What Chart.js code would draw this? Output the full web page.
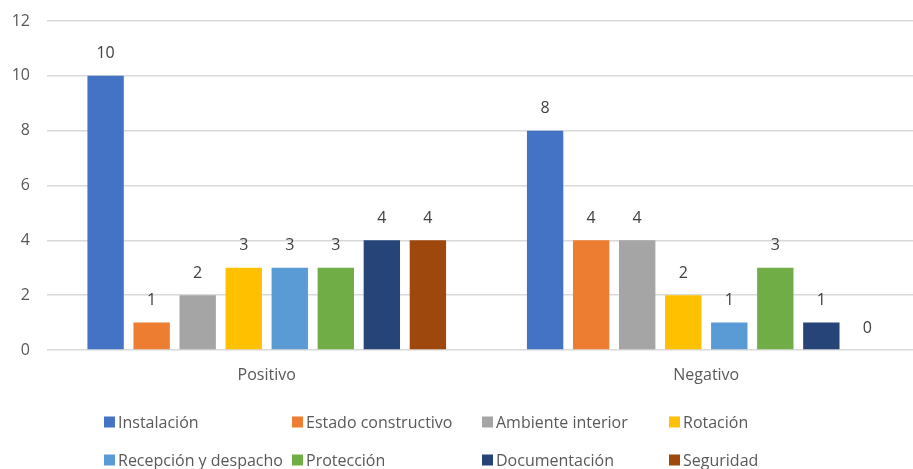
<!DOCTYPE html>
<html>
<head>
<meta charset="utf-8">
<script src="https://cdn.jsdelivr.net/npm/chart.js@4/dist/chart.umd.min.js"></script>
<style>
  html, body { margin: 0; padding: 0; background: #fff; }
  #wrap { width: 913px; height: 469px; position: relative; }
</style>
</head>
<body>
<div id="wrap"><canvas id="c" width="913" height="469"></canvas></div>
<script>
const categories = ["Positivo", "Negativo"];
const seriesNames = ["Instalación", "Estado constructivo", "Ambiente interior", "Rotación",
                     "Recepción y despacho", "Protección", "Documentación", "Seguridad"];
const instalacion = [10, 8];
const estadoConstructivo = [1, 4];
const ambienteInterior = [2, 4];
const rotacion = [3, 2];
const recepcionDespacho = [3, 1];
const proteccion = [3, 3];
const documentacion = [4, 1];
const seguridad = [4, 0];
const yTicks = [0, 2, 4, 6, 8, 10, 12];

const seriesValues = [instalacion, estadoConstructivo, ambienteInterior, rotacion,
                      recepcionDespacho, proteccion, documentacion, seguridad];
const colors = ["#4472C4", "#ED7D31", "#A5A5A5", "#FFC000", "#5B9BD5", "#70AD47", "#264478", "#9E480E"];

const FONT = "'Open Sans', Lato, sans-serif";
const TEXT = "#595959";
const FS = 16;

// The original plot area runs a little past the right edge of the picture.
const plotOverflowRight = 13;
const extendPlot = {
  id: "extendPlot",
  afterLayout(chart) {
    const x = chart.scales.x;
    x.right += plotOverflowRight;
    x.width += plotOverflowRight;
    x.configure();
  }
};

const dataLabels = {
  id: "dataLabels",
  afterDatasetsDraw(chart) {
    const ctx = chart.ctx;
    ctx.save();
    ctx.font = FS + "px " + FONT;
    ctx.fillStyle = "#404040";
    ctx.textAlign = "center";
    ctx.textBaseline = "middle";
    chart.data.datasets.forEach((ds, i) => {
      const meta = chart.getDatasetMeta(i);
      meta.data.forEach((bar, j) => {
        ctx.fillText(String(ds.data[j]), bar.x, bar.y - 22);
      });
    });
    ctx.restore();
  }
};

const gridLegend = {
  id: "gridLegend",
  afterDraw(chart) {
    const ctx = chart.ctx;
    const cols = [104, 292, 482, 669];
    const rows = [422, 460];
    ctx.save();
    ctx.font = FS + "px " + FONT;
    ctx.textBaseline = "middle";
    ctx.textAlign = "left";
    chart.data.datasets.forEach((ds, i) => {
      const x = cols[i % 4];
      const y = rows[Math.floor(i / 4)];
      ctx.fillStyle = ds.backgroundColor;
      ctx.fillRect(x, y - 5.5, 11, 11);
      ctx.fillStyle = TEXT;
      ctx.fillText(ds.label, x + 14, y + 1);
    });
    ctx.restore();
  }
};

new Chart(document.getElementById("c"), {
  type: "bar",
  data: {
    labels: categories,
    datasets: seriesNames.map((name, i) => ({
      label: name,
      data: seriesValues[i],
      backgroundColor: colors[i],
      borderWidth: 0,
      categoryPercentage: 0.838,
      barPercentage: 0.79
    }))
  },
  options: {
    responsive: false,
    animation: false,
    devicePixelRatio: 1,
    layout: { padding: { left: 0, right: 0, top: 21, bottom: 80 } },
    plugins: {
      legend: { display: false },
      tooltip: { enabled: false }
    },
    scales: {
      x: {
        grid: { display: false, drawTicks: false },
        border: { display: false },
        ticks: { color: TEXT, font: { size: FS, family: FONT }, padding: 16 },
        afterFit(scale) { scale.height = 39; scale.paddingLeft = 0; scale.paddingRight = 0; }
      },
      y: {
        min: 0,
        max: 12,
        afterBuildTicks(scale) { scale.ticks = yTicks.map(v => ({ value: v })); },
        grid: { color: "#d9d9d9", lineWidth: 1.5, drawTicks: false },
        border: { display: false },
        ticks: { color: TEXT, font: { size: FS, family: FONT }, padding: 17 },
        afterFit(scale) { scale.width = 47; scale.paddingTop = 0; scale.paddingBottom = 0; }
      }
    }
  },
  plugins: [extendPlot, dataLabels, gridLegend]
});
</script>
</body>
</html>
